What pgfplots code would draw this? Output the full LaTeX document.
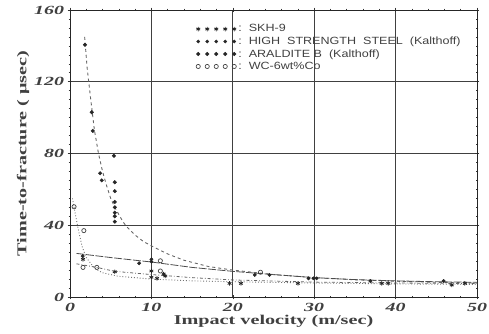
\documentclass[border=0pt]{standalone}
\usepackage{fontspec}
\setmainfont{Liberation Serif}
\newfontfamily\tickfont{Liberation Serif}[FakeStretch=1.6]
\newfontfamily\labfont{Liberation Serif}[FakeStretch=1.5]
\newfontfamily\legfont{Liberation Sans}[FakeStretch=1.2]
\usepackage{pgfplots}
\pgfplotsset{compat=1.18}
\begin{document}
\begin{tikzpicture}
\begin{axis}[
  scale only axis, width=407bp, height=287bp,
  xmin=0, xmax=50, ymin=0, ymax=160,
  xtick={0,10,...,50}, ytick={0,40,...,160},
  minor x tick num=4, minor y tick num=7,
  tick align=center,
  major tick length=5pt, minor tick length=3pt,
  grid=major,
  major grid style={draw=black!75, line width=0.9pt},
  axis line style={line width=0.8pt, black!85},
  every tick/.style={black!80, line width=0.6pt},
  /pgf/number format/assume math mode=true,
  ticklabel style={font=\tickfont\bfseries\itshape\fontsize{12.5}{12.5}\selectfont, text=black!75},
  xlabel={\labfont\bfseries\fontsize{13.5}{13.5}\selectfont Impact velocity (m/sec)},
  ylabel={\labfont\bfseries\fontsize{13.5}{13.5}\selectfont Time-to-fracture ( μsec)},
  xlabel style={yshift=3pt, text=black!75},
  ylabel style={yshift=-2pt, text=black!75},
  legend style={draw=none, fill=none, at={(0.307,0.96)}, anchor=north west,
     font=\legfont\fontsize{10.5}{10.5}\selectfont, row sep=-0.5pt, inner sep=1pt,
     text=black!75},
  legend cell align=left,
  legend image code/.code={\draw[mark repeat=1,#1] plot coordinates {(0bp,0bp) (9bp,0bp) (18bp,0bp) (27bp,0bp) (36bp,0bp)};},
]
% SKH-9
\addplot[only marks, mark=asterisk, mark size=2.2pt, black!85, line width=0.8pt] coordinates {
(1.6,21) (5.5,14.1) (10,14.5) (10,11) (10.7,10.4) (11.5,12.8) (11.7,11.7)
(19.6,7.6) (21,7.6) (28,7.6) (38.3,7.6) (39.1,7.6) (46.9,6.7) (48.5,7.6)
};
\addlegendentry{:\ \ SKH-9}
% High strength steel
\addplot[only marks, mark=*, mark size=1.7pt, black!85] coordinates {
(1.56,22.8) (8.5,18.8) (10,21) (10,19.7) (22.7,12.3) (24.5,12.3)
(29.3,10.4) (29.9,10.4) (30.3,10.4) (36.9,8.9) (45.9,8.9)
};
\addlegendentry{:\ \ HIGH\ \ STRENGTH\ \ STEEL\ \ (Kalthoff)}
% Araldite B
\addplot[only marks, mark=*, mark size=1.8pt, black!85] coordinates {
(1.84,140.6) (2.67,103) (2.8,92.6) (3.7,69) (3.9,65) (5.4,78.7)
(5.5,64) (5.5,59) (5.5,53) (5.5,50) (5.5,47) (5.5,45) (5.5,42)
};
\addlegendentry{:\ \ ARALDITE\ B\ \ (Kalthoff)}
% WC-6wt%Co
\addplot[only marks, mark=o, mark size=2.1pt, black!75, line width=0.7pt] coordinates {
(0.5,50.3) (1.7,37) (1.6,16.5) (3.3,16.5) (11.1,20.2) (11.1,14.5) (23.4,13.8)
};
\addlegendentry{:\ \ WC-6wt\%Co}
% fitted curves
\addplot[black!60, line width=0.9pt, dash pattern=on 3pt off 3pt] coordinates {
(1.8,145) (2.1,128) (2.5,112) (3,93) (3.5,80) (4,70) (4.5,62) (5,55) (5.5,50)
(6.5,42) (7,39) (8,34.5) (9,31) (10,28.5) (12,24) (14,20.5) (17,17) (20,15)
(25,12.5) (30,10.8) (35,9.6) (40,8.8) (45,8.2) (50,7.8)
};
\addplot[black!70, line width=0.8pt, dash pattern=on 8pt off 1.5pt] coordinates {
(0.8,24.3) (5,22) (10,19.5) (15,16.5) (20,14.3) (25,12.5) (30,10.8) (35,9.7) (40,9) (45,8.5) (50,8.2)
};
\addplot[black!60, line width=0.8pt, dash dot] coordinates {
(0.8,18.5) (3.3,16.5) (5.5,14.3) (10,12.5) (15,10.8) (20,9.5) (30,8.3) (40,7.8) (50,7.5)
};
\addplot[black!55, line width=0.9pt, dotted] coordinates {
(0.3,55) (0.5,50) (1,38) (1.5,28) (2,22) (3,16) (4,13.5) (6,11.5) (10,10) (15,9) (20,8.5) (30,7.8) (40,7.3) (50,7)
};
\end{axis}
\pgfresetboundingbox
\path[use as bounding box] ([xshift=-70bp,yshift=-37bp]current axis.south west) rectangle ([xshift=12bp,yshift=10bp]current axis.north east);
\end{tikzpicture}
\end{document}
